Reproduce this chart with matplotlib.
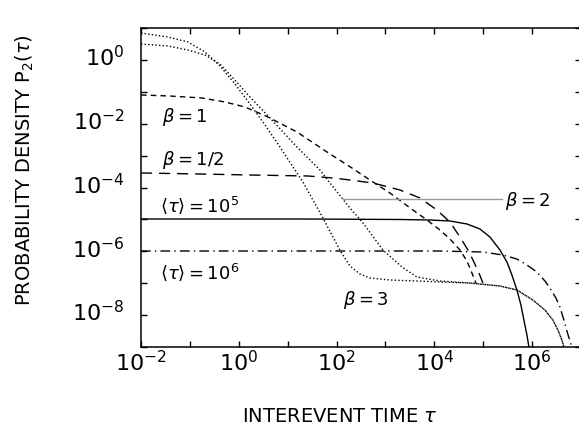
import numpy as np
import matplotlib
matplotlib.use('Agg')
import matplotlib.pyplot as plt
import matplotlib.transforms as mtransforms

plt.rcParams['font.family'] = 'DejaVu Sans'
plt.rcParams['mathtext.fontset'] = 'dejavusans'

# all values, stored as log10(tau) and log10(P2)
b12_logt = [-2.0, -0.793, 0.229, 1.415, 1.926, 2.274, 2.744, 3.297, 3.706, 4.053,
            4.319, 4.524, 4.687, 4.810, 4.912, 4.994]
b12_logp = [-3.545, -3.577, -3.608, -3.639, -3.702, -3.765, -3.859, -4.078, -4.329, -4.705,
            -5.082, -5.552, -5.959, -6.335, -6.680, -6.994]

b1_logt = [-2.0, -1.407, -0.753, -0.282, 0.127, 0.597, 1.190, 1.804, 2.315, 2.683,
           3.092, 3.562, 3.849, 4.115, 4.319, 4.524, 4.667, 4.769, 4.851]
b1_logp = [-1.100, -1.132, -1.194, -1.320, -1.476, -1.790, -2.260, -2.887, -3.389, -3.765,
           -4.172, -4.705, -5.019, -5.332, -5.614, -5.959, -6.304, -6.680, -6.994]

b2_logt = [-2.0, -1.448, -1.039, -0.691, -0.384, -0.119, 0.229, 0.638, 1.190, 1.660,
           1.865, 2.274, 2.540, 2.949, 3.337, 3.644, 4.115, 4.728, 5.342, 5.689,
           6.016, 6.262, 6.425, 6.528, 6.609, 6.650]
b2_logp = [0.498, 0.436, 0.310, 0.154, -0.128, -0.567, -1.163, -1.821, -2.730, -3.451,
           -3.859, -4.643, -5.113, -5.959, -6.492, -6.806, -6.931, -6.994, -7.088, -7.213,
           -7.527, -7.840, -8.154, -8.467, -8.781, -9.0]

b3_logt = [-2.0, -1.448, -1.039, -0.691, -0.384, -0.078, 0.229, 0.536, 0.843, 1.108,
           1.313, 1.517, 1.722, 1.926, 2.090, 2.274, 2.479, 2.683, 3.092, 3.644,
           4.115, 4.728, 5.342, 5.689, 6.016, 6.262, 6.425, 6.528, 6.609, 6.650]
b3_logp = [0.843, 0.718, 0.561, 0.248, -0.191, -0.755, -1.382, -2.041, -2.730, -3.357,
           -3.828, -4.392, -4.956, -5.552, -6.022, -6.461, -6.712, -6.837, -6.900, -6.931,
           -6.962, -6.994, -7.088, -7.213, -7.527, -7.840, -8.154, -8.467, -8.781, -9.0]

m5_logt = [-2.0, 1.252, 3.297, 3.910, 4.319, 4.667, 4.933, 5.137, 5.342, 5.485,
           5.587, 5.689, 5.771, 5.832, 5.894, 5.935]
m5_logp = [-4.987, -4.987, -5.003, -5.019, -5.050, -5.144, -5.301, -5.552, -5.959, -6.335,
           -6.743, -7.213, -7.683, -8.154, -8.624, -9.0]

m6_logt = [-2.0, 4.115, 4.994, 5.403, 5.689, 5.894, 6.098, 6.262, 6.364, 6.487,
           6.569, 6.650, 6.712, 6.773, 6.814]
m6_logp = [-5.991, -5.991, -6.022, -6.116, -6.241, -6.429, -6.649, -6.931, -7.150, -7.464,
           -7.746, -8.154, -8.498, -8.812, -9.0]

# pointer line to the beta=2 curve
ptr_logt = [2.131, 5.382]
ptr_logp = [-4.36, -4.36]

xtick_exp = list(range(-2, 8))
ytick_exp = list(range(-9, 2))

fig = plt.figure(figsize=(5.79, 4.33), dpi=100)
ax = fig.add_axes([141 / 579, 1 - 347 / 433, (581 - 141) / 579, (347 - 28) / 433])

def p(v):
    return 10.0 ** np.array(v)

ax.plot(p(b12_logt), p(b12_logp), color='k', lw=1.0, ls=(0, (8, 5)))
ax.plot(p(b1_logt), p(b1_logp), color='k', lw=1.0, ls=(0, (4, 3)))
ax.plot(p(b2_logt), p(b2_logp), color='k', lw=1.0, ls=(0, (1, 1.6)))
ax.plot(p(b3_logt), p(b3_logp), color='k', lw=1.0, ls=(0, (1, 1.6)))
ax.plot(p(m5_logt), p(m5_logp), color='k', lw=1.0, ls='-')
ax.plot(p(m6_logt), p(m6_logp), color='k', lw=1.0, ls=(0, (7, 3, 1, 3)))
ax.plot(p(ptr_logt), p(ptr_logp), color='#999999', lw=1.0)

ax.set_xscale('log')
ax.set_yscale('log')
ax.set_xlim(1e-2, 1e7)
ax.set_ylim(1e-9, 1e1)

ax.set_xticks([10.0 ** e for e in xtick_exp])
ax.set_xticklabels(['$10^{%d}$' % e if e % 2 == 0 and e < 7 else '' for e in xtick_exp])
ax.set_yticks([10.0 ** e for e in ytick_exp])
ax.set_yticklabels(['$10^{%d}$' % e if e % 2 == 0 and e < 1 else '' for e in ytick_exp])
ax.minorticks_off()
ax.tick_params(which='both', direction='in', length=4, width=1.0,
               top=True, right=True, labelsize=16)
ax.tick_params(axis='x', pad=2)
ax.tick_params(axis='y', pad=12)
for s in ax.spines.values():
    s.set_linewidth(1.1)

# put the "10" of each y label on its tick, like the original
shift = mtransforms.ScaledTranslation(0, 4 / 100, fig.dpi_scale_trans)
for lbl in ax.get_yticklabels():
    lbl.set_transform(lbl.get_transform() + shift)

fs = 13
ax.text(10 ** -1.571, 10 ** -1.947, r'$\beta=1$', fontsize=fs, va='baseline')
ax.text(10 ** -1.571, 10 ** -3.295, r'$\beta=1/2$', fontsize=fs, va='baseline')
ax.text(10 ** -1.611, 10 ** -4.759, r'$\langle\tau\rangle=10^5$', fontsize=fs, va='baseline')
ax.text(10 ** -1.611, 10 ** -6.868, r'$\langle\tau\rangle=10^6$', fontsize=fs, va='baseline')
ax.text(10 ** 2.131, 10 ** -7.683, r'$\beta=3$', fontsize=fs, va='baseline')
ax.text(10 ** 5.444, 10 ** -4.58, r'$\beta=2$', fontsize=fs, va='baseline')

fig.text(25 / 579, 1 - 170 / 433, r'PROBABILITY DENSITY P$_2$($\tau$)',
         rotation=90, fontsize=14, ha='center', va='center')
fig.text(340 / 579, 1 - 416 / 433, r'INTEREVENT TIME $\tau$',
         fontsize=14, ha='center', va='center')

fig.savefig('out.png', dpi=100)
